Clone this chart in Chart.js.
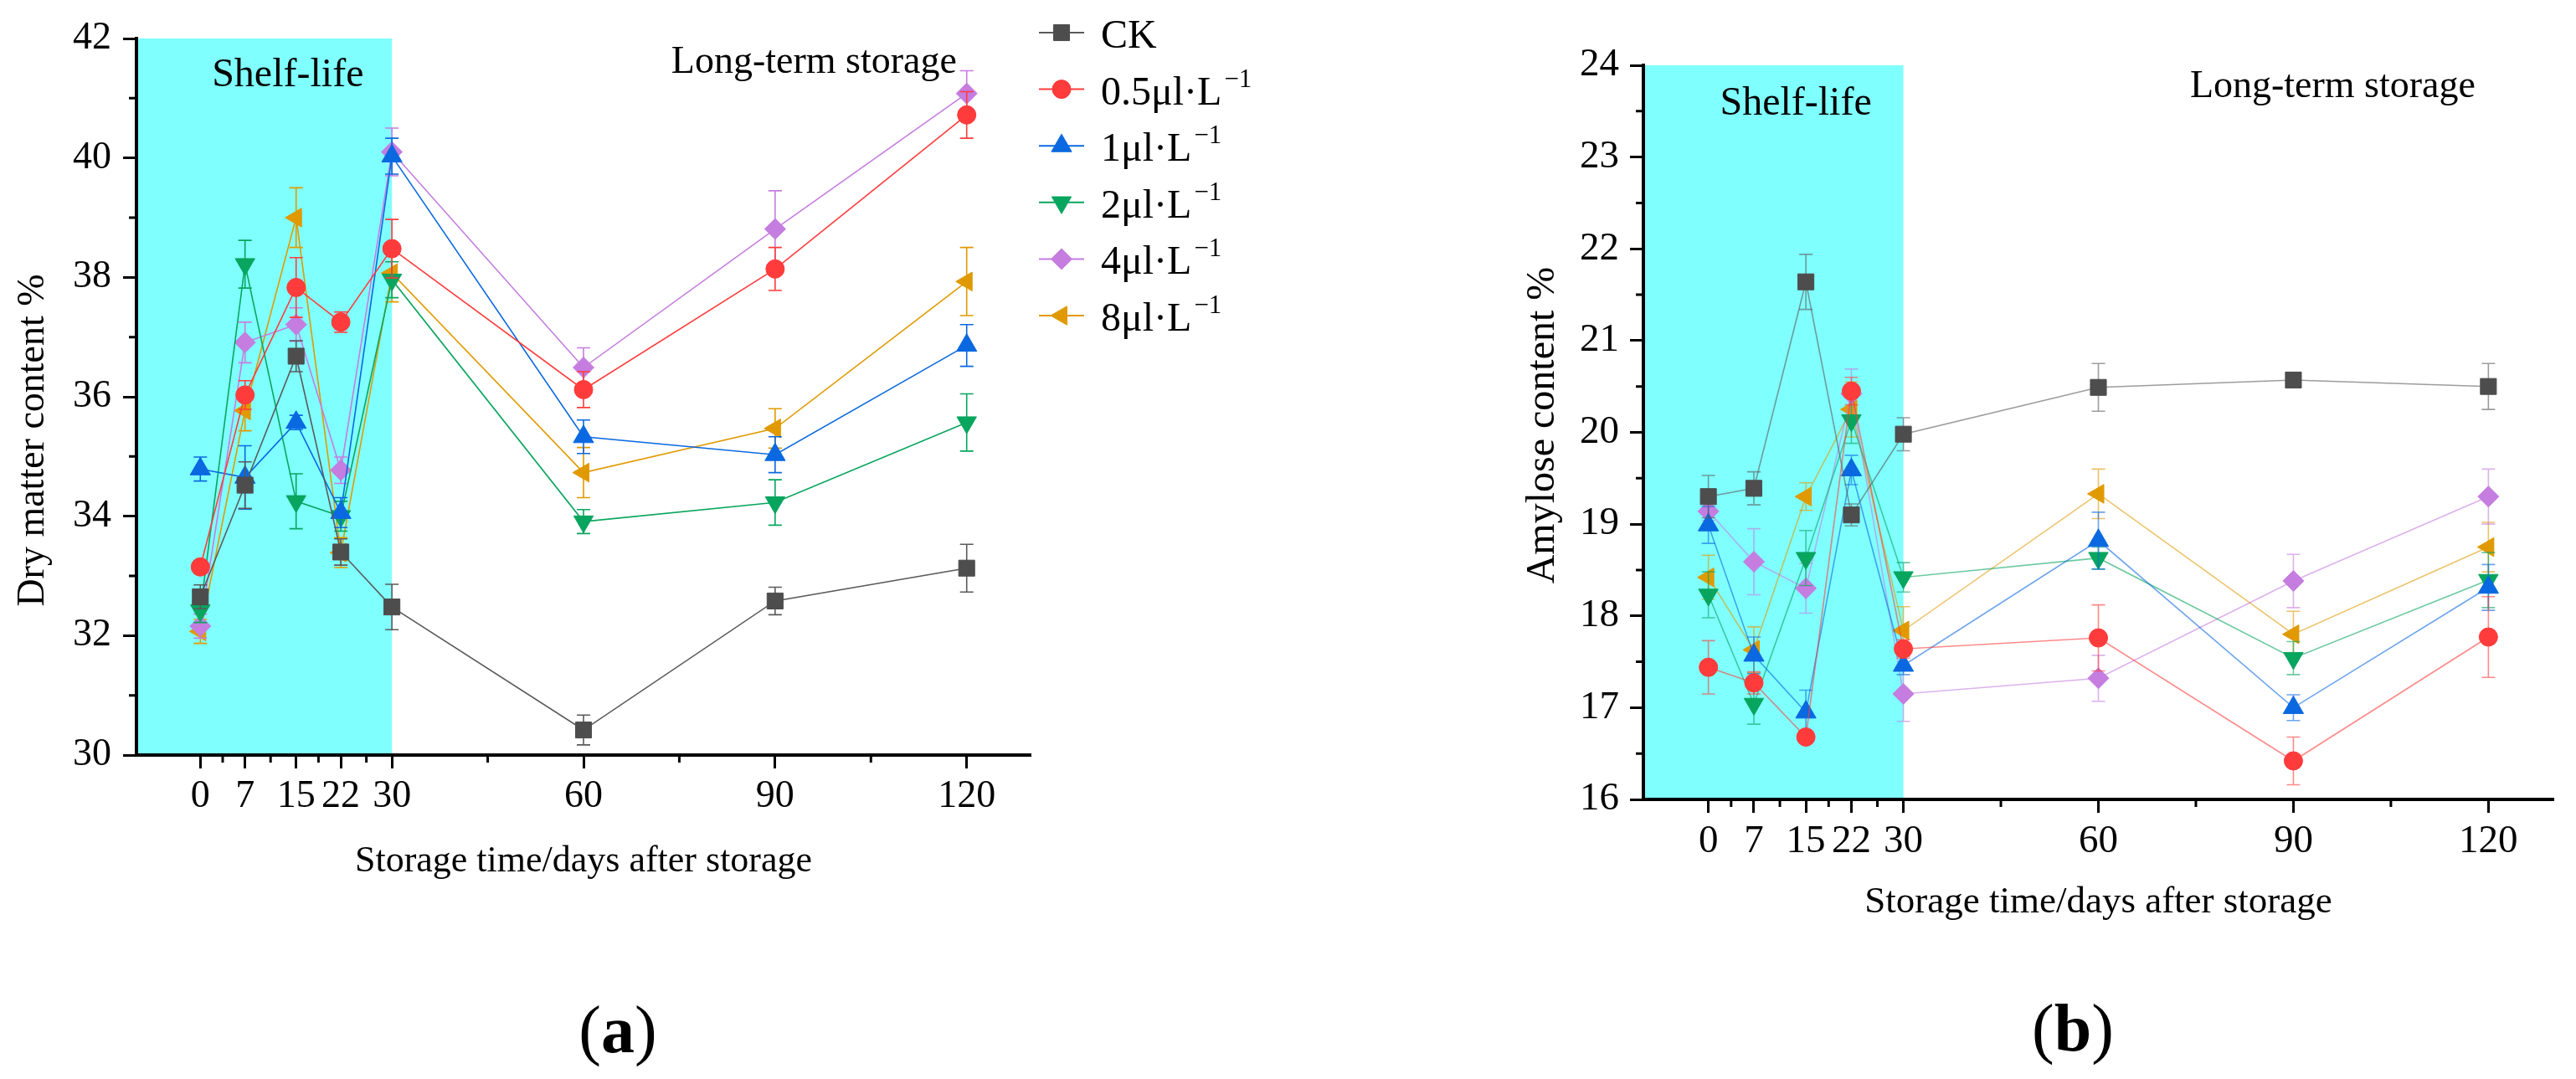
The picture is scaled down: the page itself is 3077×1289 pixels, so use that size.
<!DOCTYPE html>
<html>
<head>
<meta charset="utf-8">
<script src="https://cdn.jsdelivr.net/npm/chart.js@4.4.0/dist/chart.umd.min.js"></script>
<style>
  html, body { margin: 0; padding: 0; background: #fff; }
  body { width: 3077px; height: 1289px; position: relative; overflow: hidden; font-family: "Liberation Serif", "Times New Roman", serif; }
  #chartA { position: absolute; left: 0; top: 0; }
  #chartB { position: absolute; left: 1700px; top: 0; }
  .panel { position: absolute; font-size: 80px; line-height: 1; transform: translate(-50%, -50%); color: #000; }
</style>
</head>
<body>
<canvas id="chartA" width="1600" height="1289"></canvas>
<canvas id="chartB" width="1377" height="1289"></canvas>
<div class="panel" style="left:738px; top:1230px">(<b>a</b>)</div>
<div class="panel" style="left:2476px; top:1228px">(<b>b</b>)</div>
<script>
// storage days and extra (unlabelled) tick positions
const days = [0, 7, 15, 22, 30, 60, 90, 120];
const minorDays = [3.5, 11, 18.5, 26, 45, 75, 105];
const dryMinorTicks = [31, 33, 35, 37, 39, 41];
const amyMinorTicks = [16.5, 17.5, 18.5, 19.5, 20.5, 21.5, 22.5, 23.5];

const legendLabels = ["CK", "0.5μl·L", "1μl·L", "2μl·L", "4μl·L", "8μl·L"];
const legendSup = ["", "−1", "−1", "−1", "−1", "−1"];

// (a) dry matter content %
const dryCK = [32.65, 34.52, 36.68, 33.40, 32.48, 30.42, 32.58, 33.13];
const dry05 = [33.15, 36.03, 37.83, 37.25, 38.48, 36.12, 38.14, 40.72];
const dry1  = [34.79, 34.65, 35.57, 34.06, 40.03, 35.33, 35.03, 36.86];
const dry2  = [32.42, 38.22, 34.25, 34.00, 37.96, 33.91, 34.23, 35.57];
const dry4  = [32.16, 36.91, 37.21, 34.77, 40.10, 36.49, 38.81, 41.08];
const dry8  = [32.07, 35.77, 39.00, 33.39, 38.07, 34.73, 35.47, 37.93];

const dryErrCK = [0.20, 0.39, 0.26, 0.22, 0.38, 0.25, 0.23, 0.40];
const dryErr05 = [0.10, 0.24, 0.50, 0.17, 0.49, 0.30, 0.36, 0.39];
const dryErr1  = [0.20, 0.53, 0.12, 0.25, 0.30, 0.28, 0.30, 0.35];
const dryErr2  = [0.20, 0.40, 0.46, 0.25, 0.30, 0.20, 0.38, 0.48];
const dryErr4  = [0.20, 0.34, 0.28, 0.22, 0.40, 0.33, 0.64, 0.38];
const dryErr8  = [0.20, 0.34, 0.50, 0.25, 0.48, 0.42, 0.33, 0.57];

// (b) amylose content %
const amyCK = [19.30, 19.39, 21.64, 19.10, 19.98, 20.49, 20.57, 20.50];
const amy05 = [17.44, 17.27, 16.68, 20.45, 17.64, 17.76, 16.42, 17.77];
const amy1  = [18.99, 17.57, 16.95, 19.59, 17.46, 18.82, 17.00, 18.31];
const amy2  = [18.23, 17.04, 18.63, 20.13, 18.42, 18.63, 17.54, 18.39];
const amy4  = [19.14, 18.59, 18.30, 20.42, 17.15, 17.32, 18.38, 19.30];
const amy8  = [18.42, 17.63, 19.30, 20.25, 17.84, 19.33, 17.80, 18.75];

const amyErrCK = [0.23, 0.18, 0.30, 0.12, 0.18, 0.26, 0.08, 0.25];
const amyErr05 = [0.29, 0.12, 0.05, 0.15, 0.10, 0.36, 0.26, 0.44];
const amyErr1  = [0.20, 0.20, 0.24, 0.16, 0.10, 0.31, 0.14, 0.25];
const amyErr2  = [0.25, 0.22, 0.30, 0.25, 0.16, 0.12, 0.18, 0.30];
const amyErr4  = [0.10, 0.36, 0.27, 0.27, 0.30, 0.25, 0.29, 0.30];
const amyErr8  = [0.24, 0.25, 0.15, 0.30, 0.26, 0.27, 0.25, 0.27];

const markerColors = ["#4d4d4d", "#ff3b3b", "#0a68e0", "#08a55e", "#c57de0", "#e09a00"];
const lineRgb = ["90,90,90", "255,59,59", "10,104,224", "8,165,94", "197,125,224", "224,154,0"];
const pointShapes = ["rect", "circle", "triangle", "triangle", "rectRot", "triangle"];
const pointRotations = [0, 0, 0, 180, 0, 270];
const pointRadii = [13.5, 11, 14, 13.5, 12.5, 13];

const serifFamily = "'Liberation Serif', 'Times New Roman', 'DejaVu Serif', serif";
Chart.defaults.font.family = serifFamily;
Chart.defaults.color = "#000";

function makeDatasets(series, errors, alpha) {
  return series.map((vals, i) => ({
    label: legendLabels[i] + legendSup[i],
    data: days.map((d, k) => ({ x: d, y: vals[k] })),
    errors: errors[i],
    errorColor: "rgba(" + lineRgb[i] + "," + alpha + ")",
    borderColor: "rgba(" + lineRgb[i] + "," + alpha + ")",
    borderWidth: 1.6,
    pointStyle: pointShapes[i],
    pointRotation: pointRotations[i],
    pointRadius: pointRadii[i],
    pointBackgroundColor: markerColors[i],
    pointBorderColor: markerColors[i],
    pointBorderWidth: 1,
    tension: 0,
    fill: false
  }));
}

const errorBarPlugin = {
  id: "errorBars",
  beforeDatasetDraw(chart, args) {
    const ds = chart.data.datasets[args.index];
    if (!ds.errors) return;
    const xs = chart.scales.x, ys = chart.scales.y, ctx = chart.ctx;
    ctx.save();
    ctx.strokeStyle = ds.errorColor;
    ctx.lineWidth = 1.6;
    ds.data.forEach((p, k) => {
      const e = ds.errors[k];
      const px = xs.getPixelForValue(p.x);
      const top = ys.getPixelForValue(p.y + e);
      const bot = ys.getPixelForValue(p.y - e);
      ctx.beginPath();
      ctx.moveTo(px, top); ctx.lineTo(px, bot);
      ctx.moveTo(px - 8, top); ctx.lineTo(px + 8, top);
      ctx.moveTo(px - 8, bot); ctx.lineTo(px + 8, bot);
      ctx.stroke();
    });
    ctx.restore();
  }
};

const decorPlugin = {
  id: "decor",
  beforeDraw(chart, args, o) {
    const { ctx, chartArea, scales: { x } } = chart;
    ctx.save();
    ctx.fillStyle = "#80ffff";
    ctx.fillRect(chartArea.left, chartArea.top, x.getPixelForValue(o.shelfEnd) - chartArea.left, chartArea.bottom - chartArea.top);
    ctx.restore();
  },
  afterDraw(chart, args, o) {
    const { ctx, chartArea, scales: { x, y } } = chart;
    ctx.save();
    // short ticks
    ctx.strokeStyle = "#000";
    ctx.lineWidth = 3;
    ctx.beginPath();
    o.minorX.forEach(v => {
      const px = x.getPixelForValue(v);
      ctx.moveTo(px, chartArea.bottom); ctx.lineTo(px, chartArea.bottom + 9);
    });
    o.minorY.forEach(v => {
      const py = y.getPixelForValue(v);
      ctx.moveTo(chartArea.left, py); ctx.lineTo(chartArea.left - 9, py);
    });
    ctx.stroke();

    // region labels
    ctx.fillStyle = "#000";
    ctx.textAlign = "center";
    ctx.textBaseline = "middle";
    o.notes.forEach(n => {
      ctx.font = n.size + "px " + serifFamily;
      ctx.fillText(n.text, x.getPixelForValue(n.x), y.getPixelForValue(n.y));
    });

    // y axis title
    ctx.save();
    ctx.translate(o.yTitle.x, o.yTitle.y);
    ctx.rotate(-Math.PI / 2);
    ctx.font = o.yTitle.size + "px " + serifFamily;
    ctx.fillText(o.yTitle.text, 0, 0);
    ctx.restore();

    // legend
    if (o.legend) {
      const L = o.legend;
      ctx.textAlign = "left";
      ctx.textBaseline = "alphabetic";
      chart.data.datasets.forEach((ds, i) => {
        const cy = L.y + i * L.step;
        ctx.strokeStyle = ds.borderColor;
        ctx.lineWidth = 2;
        ctx.beginPath();
        ctx.moveTo(L.x, cy); ctx.lineTo(L.x + L.lineLen, cy);
        ctx.stroke();
        ctx.fillStyle = ds.pointBackgroundColor;
        ctx.strokeStyle = ds.pointBorderColor;
        ctx.lineWidth = 1;
        Chart.helpers.drawPoint(ctx, { pointStyle: ds.pointStyle, rotation: ds.pointRotation, radius: ds.pointRadius, borderWidth: 1 }, L.x + L.lineLen / 2, cy);
        ctx.fillStyle = "#000";
        ctx.font = "48px " + serifFamily;
        const base = cy + 18;
        ctx.fillText(legendLabels[i], L.textX, base);
        if (legendSup[i]) {
          const w = ctx.measureText(legendLabels[i]).width;
          ctx.font = "31px " + serifFamily;
          ctx.fillText(legendSup[i], L.textX + w + 3, base - 21);
        }
      });
    }
    ctx.restore();
  }
};

function axisOptions(cfg) {
  return {
    x: {
      type: "linear", min: -10, max: 130,
      afterBuildTicks: ax => { ax.ticks = days.map(v => ({ value: v })); },
      afterFit: ax => { ax.height = 170; },
      ticks: { autoSkip: false, maxRotation: 0, minRotation: 0, padding: 6, font: { size: cfg.tickSize }, color: "#000", callback: v => String(v) },
      grid: { drawOnChartArea: false, tickLength: 16, tickWidth: 3, tickColor: "#000" },
      border: { width: 4, color: "#000" },
      title: { display: true, text: "Storage time/days after storage", font: { size: cfg.titleSize }, color: "#000", padding: { top: 0, bottom: cfg.titlePad } }
    },
    y: {
      min: cfg.yMin, max: cfg.yMax,
      afterFit: ax => { ax.width = cfg.yWidth; },
      ticks: { stepSize: cfg.yStep, padding: cfg.yPad, font: { size: cfg.tickSize }, color: "#000" },
      grid: { drawOnChartArea: false, tickLength: 16, tickWidth: 3, tickColor: "#000" },
      border: { width: 4, color: "#000" }
    }
  };
}

new Chart(document.getElementById("chartA"), {
  type: "line",
  data: { datasets: makeDatasets([dryCK, dry05, dry1, dry2, dry4, dry8], [dryErrCK, dryErr05, dryErr1, dryErr2, dryErr4, dryErr8], 1) },
  plugins: [decorPlugin, errorBarPlugin],
  options: {
    responsive: false, animation: false, devicePixelRatio: 1,
    layout: { padding: { left: 0, top: 46, right: 369, bottom: 217 } },
    plugins: {
      legend: { display: false }, tooltip: { enabled: false },
      decor: {
        shelfEnd: 30, minorX: minorDays, minorY: dryMinorTicks,
        notes: [
          { text: "Shelf-life", x: 13.7, y: 41.38, size: 48 },
          { text: "Long-term storage", x: 96.1, y: 41.6, size: 46 }
        ],
        yTitle: { text: "Dry matter content %", x: 40, y: 526, size: 46 },
        legend: { x: 1241, y: 39, step: 67.6, lineLen: 54, textX: 1315 }
      }
    },
    scales: axisOptions({ tickSize: 46, titleSize: 44, titlePad: 16, yMin: 30, yMax: 42, yStep: 2, yWidth: 163, yPad: 14 })
  }
});

new Chart(document.getElementById("chartB"), {
  type: "line",
  data: { datasets: makeDatasets([amyCK, amy05, amy1, amy2, amy4, amy8], [amyErrCK, amyErr05, amyErr1, amyErr2, amyErr4, amyErr8], 0.6) },
  plugins: [decorPlugin, errorBarPlugin],
  options: {
    responsive: false, animation: false, devicePixelRatio: 1,
    layout: { padding: { left: 0, top: 78, right: 27, bottom: 164 } },
    plugins: {
      legend: { display: false }, tooltip: { enabled: false },
      decor: {
        shelfEnd: 30, minorX: minorDays, minorY: amyMinorTicks,
        notes: [
          { text: "Shelf-life", x: 13.45, y: 23.58, size: 48 },
          { text: "Long-term storage", x: 96.05, y: 23.76, size: 46 }
        ],
        yTitle: { text: "Amylose content %", x: 143, y: 508, size: 48 }
      }
    },
    scales: axisOptions({ tickSize: 47, titleSize: 45, titlePad: 20, yMin: 16, yMax: 24, yStep: 1, yWidth: 263, yPad: 13 })
  }
});
</script>
</body>
</html>
